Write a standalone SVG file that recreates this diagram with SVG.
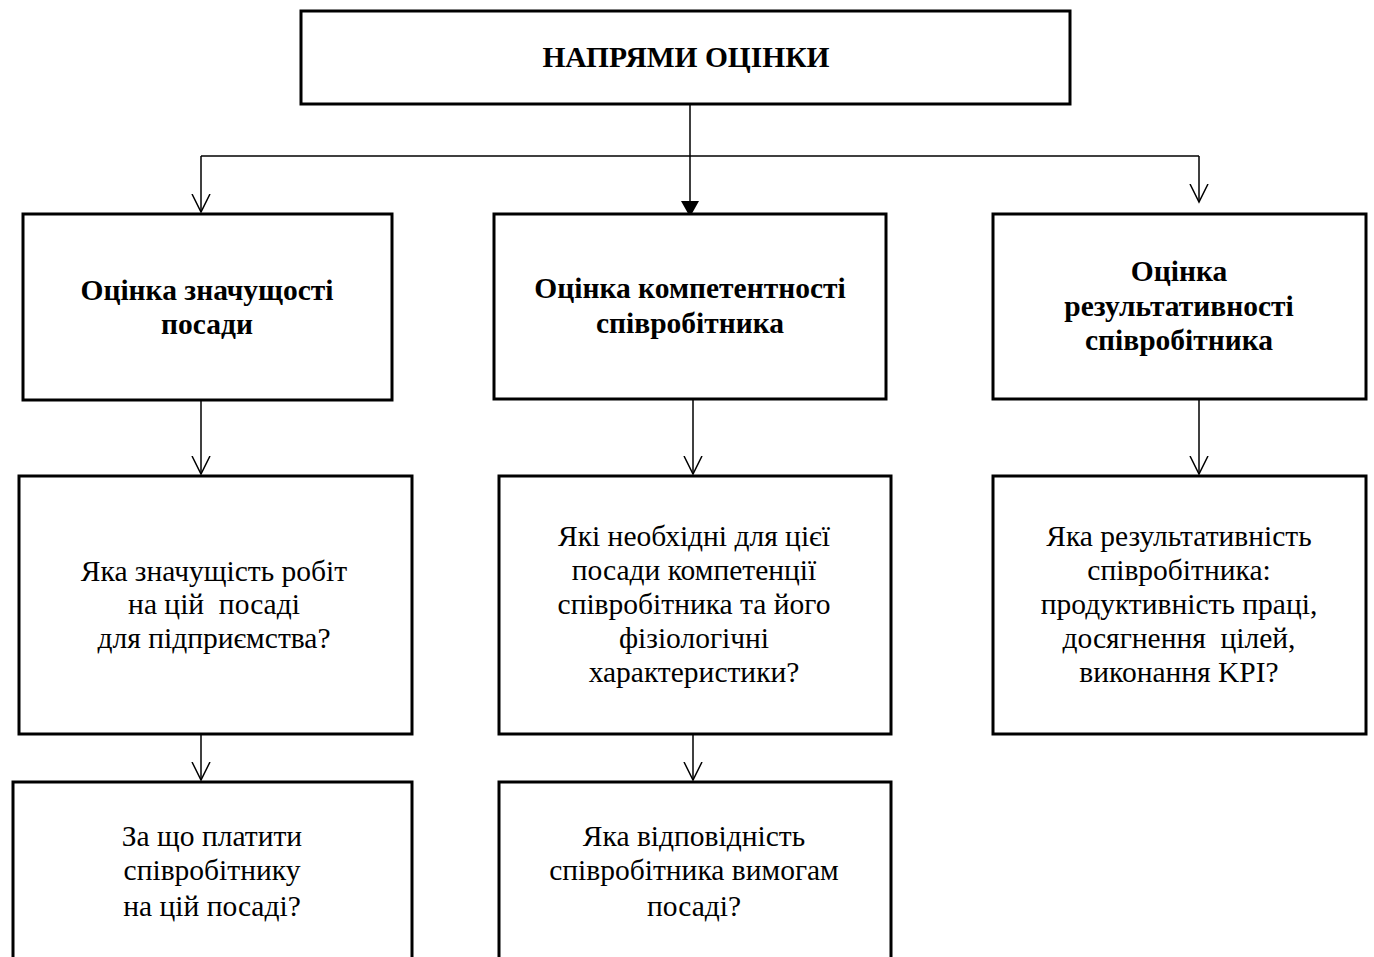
<svg xmlns="http://www.w3.org/2000/svg" width="1374" height="957" viewBox="0 0 1374 957">
<style>
.box{fill:#fff;stroke:#000;stroke-width:3}
.t{font-family:"Liberation Serif","Times New Roman",serif;font-size:29.5px;text-anchor:middle;fill:#000}
.b{font-weight:bold;font-size:29.5px}
.h{font-weight:bold;font-size:29.5px}
.c{stroke:#000;stroke-width:1.5;fill:none}
</style>
<defs>
<marker id="open" markerWidth="20" markerHeight="20" refX="18" refY="10" orient="auto" markerUnits="userSpaceOnUse" viewBox="0 0 20 20">
<path d="M0,1 L18,10 L0,19" fill="none" stroke="#000" stroke-width="1.5"/>
</marker>
<marker id="filled" markerWidth="20" markerHeight="20" refX="18" refY="10" orient="auto" markerUnits="userSpaceOnUse" viewBox="0 0 20 20">
<path d="M2,1 L18,10 L2,19 Z" fill="#000"/>
</marker>
</defs>
<rect width="1374" height="957" fill="#fff"/>
<g id="connectors">
<path class="c" d="M690,104 L690,217" marker-end="url(#filled)"/>
<path class="c" d="M201,156 L1199,156"/>
<path class="c" d="M201,156 L201,212" marker-end="url(#open)"/>
<path class="c" d="M1199,156 L1199,202" marker-end="url(#open)"/>
<path class="c" d="M201,400 L201,474" marker-end="url(#open)"/>
<path class="c" d="M693,399 L693,474" marker-end="url(#open)"/>
<path class="c" d="M1199,399 L1199,474" marker-end="url(#open)"/>
<path class="c" d="M201,734 L201,780" marker-end="url(#open)"/>
<path class="c" d="M693,734 L693,780" marker-end="url(#open)"/>
</g>
<g id="top">
<rect class="box" x="301" y="11" width="769" height="93"/>
<text class="t h" x="686" y="67">НАПРЯМИ ОЦІНКИ</text>
</g>
<g id="n1">
<rect class="box" x="23" y="214" width="369" height="186"/>
<text class="t b" x="207" y="300">Оцінка значущості</text>
<text class="t b" x="207" y="334">посади</text>
</g>
<g id="n2">
<rect class="box" x="494" y="214" width="392" height="185"/>
<text class="t b" x="690" y="298">Оцінка компетентності</text>
<text class="t b" x="690" y="333">співробітника</text>
</g>
<g id="n3">
<rect class="box" x="993" y="214" width="373" height="185"/>
<text class="t b" x="1179" y="281">Оцінка</text>
<text class="t b" x="1179" y="316">результативності</text>
<text class="t b" x="1179" y="350">співробітника</text>
</g>
<g id="n4">
<rect class="box" x="19" y="476" width="393" height="258"/>
<text class="t" x="214" y="581">Яка значущість робіт</text>
<text class="t" x="214" y="614" xml:space="preserve">на цій  посаді</text>
<text class="t" x="214" y="648">для підприємства?</text>
</g>
<g id="n5">
<rect class="box" x="499" y="476" width="392" height="258"/>
<text class="t" x="694" y="546">Які необхідні для цієї</text>
<text class="t" x="694" y="580">посади компетенції</text>
<text class="t" x="694" y="614">співробітника та його</text>
<text class="t" x="694" y="648">фізіологічні</text>
<text class="t" x="694" y="682">характеристики?</text>
</g>
<g id="n6">
<rect class="box" x="993" y="476" width="373" height="258"/>
<text class="t" x="1179" y="546">Яка результативність</text>
<text class="t" x="1179" y="580">співробітника:</text>
<text class="t" x="1179" y="614">продуктивність праці,</text>
<text class="t" x="1179" y="648" xml:space="preserve">досягнення  цілей,</text>
<text class="t" x="1179" y="682">виконання KPI?</text>
</g>
<g id="n7">
<rect class="box" x="13" y="782" width="399" height="190"/>
<text class="t" x="212" y="846">За що платити</text>
<text class="t" x="212" y="880">співробітнику</text>
<text class="t" x="212" y="916">на цій посаді?</text>
</g>
<g id="n8">
<rect class="box" x="499" y="782" width="392" height="190"/>
<text class="t" x="694" y="846">Яка відповідність</text>
<text class="t" x="694" y="880">співробітника вимогам</text>
<text class="t" x="694" y="916">посаді?</text>
</g>
</svg>
